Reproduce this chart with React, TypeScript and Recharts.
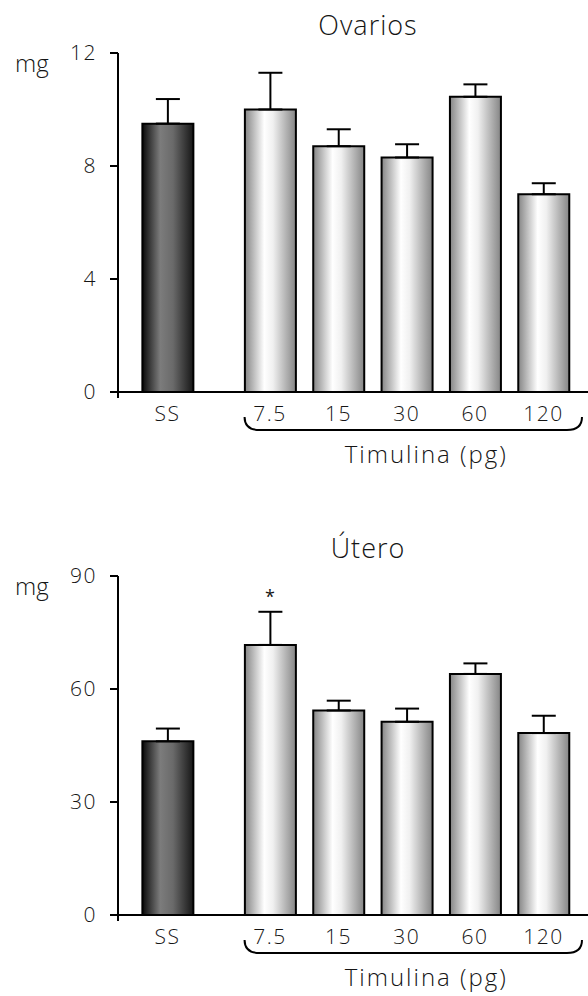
import React from "react";
import {
  BarChart,
  Bar,
  XAxis,
  YAxis,
  ErrorBar,
  Cell,
  ReferenceArea,
  ReferenceDot,
  ReferenceLine,
} from "recharts";

const groups = ["SS", "7.5", "15", "30", "60", "120"];
// slot of each group along the x axis (extra gap after the SS control)
const groupSlot = [0, 1.5, 2.5, 3.5, 4.5, 5.5];

const ovariosMean = [9.5, 10.0, 8.7, 8.3, 10.45, 7.0];
const ovariosErr = [0.87, 1.3, 0.6, 0.47, 0.44, 0.39];
const ovariosTicks = [0, 4, 8, 12];

const uteroMean = [46.1, 71.7, 54.3, 51.3, 64.0, 48.3];
const uteroErr = [3.4, 8.8, 2.6, 3.5, 2.8, 4.6];
const uteroTicks = [0, 30, 60, 90];
const uteroSig = ["", "*", "", "", "", ""];

const noSig = ["", "", "", "", "", ""];

const font = "'Open Sans', 'DejaVu Sans', sans-serif";
const ink = "#151515";
const xDomain = [-0.725, 6.152];

const tickStyle = { fill: ink, fontSize: 21, fontFamily: font, fontWeight: 300, letterSpacing: 1.5 };

function Brace(props: any) {
  const { x, y, width, height } = props;
  const base = y + height;
  const t = base + 25;
  const b = base + 38;
  const r = 15;
  return (
    <g>
      <path
        d={`M${x},${t} Q${x},${b} ${x + r},${b} L${x + width - r},${b} Q${x + width},${b} ${x + width},${t}`}
        fill="none"
        stroke="#000"
        strokeWidth={2}
      />
      <text
        x={x + width / 2 + 13}
        y={base + 71}
        textAnchor="middle"
        fontFamily={font}
        fontWeight={300}
        fontSize={24}
        letterSpacing={2}
        fill={ink}
      >
        Timulina (pg)
      </text>
    </g>
  );
}

function Panel({ title, mean, err, ticks, sig, id, top }: any) {
  const data = groups.map((g, i) => ({
    name: g,
    pos: groupSlot[i],
    value: mean[i],
    err: [0, err[i]],
  }));
  const yMax = ticks[ticks.length - 1];
  return (
    <div style={{ position: "absolute", left: 0, top, width: 588, height: 473 }}>
      <div
        style={{
          position: "absolute",
          left: 0,
          width: 736,
          top: 11,
          textAlign: "center",
          fontFamily: font,
          fontWeight: 300,
          fontSize: 27,
          lineHeight: "27px",
          letterSpacing: 1,
          color: ink,
        }}
      >
        {title}
      </div>
      <div
        style={{
          position: "absolute",
          left: 15,
          top: 51,
          fontFamily: font,
          fontWeight: 300,
          fontSize: 24,
          lineHeight: "24px",
          color: ink,
        }}
      >
        mg
      </div>
      <BarChart
        width={588}
        height={473}
        data={data}
        margin={{ top: 53, right: 0, left: 0, bottom: 51 }}
      >
        <defs>
          <linearGradient id={`${id}-dark`} x1="0" y1="0" x2="1" y2="0">
            <stop offset="0%" stopColor="#0a0a0a" />
            <stop offset="35%" stopColor="#7c7c7c" />
            <stop offset="60%" stopColor="#6a6a6a" />
            <stop offset="100%" stopColor="#161616" />
          </linearGradient>
          <linearGradient id={`${id}-light`} x1="0" y1="0" x2="1" y2="0">
            <stop offset="0%" stopColor="#858585" />
            <stop offset="38%" stopColor="#ffffff" />
            <stop offset="55%" stopColor="#f0f0f0" />
            <stop offset="100%" stopColor="#858585" />
          </linearGradient>
        </defs>
        <XAxis
          type="number"
          dataKey="pos"
          domain={xDomain}
          allowDataOverflow
          ticks={groupSlot}
          interval={0}
          tickFormatter={(v: number) => groups[groupSlot.indexOf(v)] ?? ""}
          tickLine={false}
          tickSize={0}
          tickMargin={14}
          height={30}
          axisLine={{ stroke: "#000", strokeWidth: 2 }}
          tick={tickStyle}
        />
        <YAxis
          domain={[0, yMax]}
          ticks={ticks}
          interval={0}
          width={118}
          tickSize={8}
          tickMargin={13}
          axisLine={{ stroke: "#000", strokeWidth: 2 }}
          tickLine={{ stroke: "#000", strokeWidth: 2 }}
          tick={tickStyle}
        />
        <ReferenceLine
          segment={[
            { x: xDomain[0], y: 0 },
            { x: xDomain[0], y: -yMax * 0.018 },
          ]}
          ifOverflow="visible"
          stroke="#000"
          strokeWidth={2}
        />
        <Bar
          dataKey="value"
          barSize={51}
          stroke="#000"
          strokeWidth={2}
          isAnimationActive={false}
        >
          {data.map((d, i) => (
            <Cell key={d.name} fill={i === 0 ? `url(#${id}-dark)` : `url(#${id}-light)`} />
          ))}
          <ErrorBar
            dataKey="err"
            direction="y"
            width={12}
            stroke="#000"
            strokeWidth={2}
            isAnimationActive={false}
          />
        </Bar>
        <ReferenceArea
          x1={groupSlot[1] - 0.373}
          x2={groupSlot[5] + 0.564}
          shape={<Brace />}
        />
        {sig.map((s: string, i: number) =>
          s ? (
            <ReferenceDot
              key={i}
              x={groupSlot[i]}
              y={mean[i] + err[i]}
              r={0}
              fill="none"
              stroke="none"
              label={{ value: s, position: "top", offset: 9, fontSize: 18, fill: ink, fontFamily: font }}
            />
          ) : null
        )}
      </BarChart>
    </div>
  );
}

export default function App() {
  return (
    <div style={{ position: "absolute", left: 0, top: 0, width: 588, height: 996, background: "#fff" }}>
      <Panel title="Ovarios" mean={ovariosMean} err={ovariosErr} ticks={ovariosTicks} sig={noSig} id="ov" top={0} />
      <Panel title="Útero" mean={uteroMean} err={uteroErr} ticks={uteroTicks} sig={uteroSig} id="ut" top={523} />
    </div>
  );
}
